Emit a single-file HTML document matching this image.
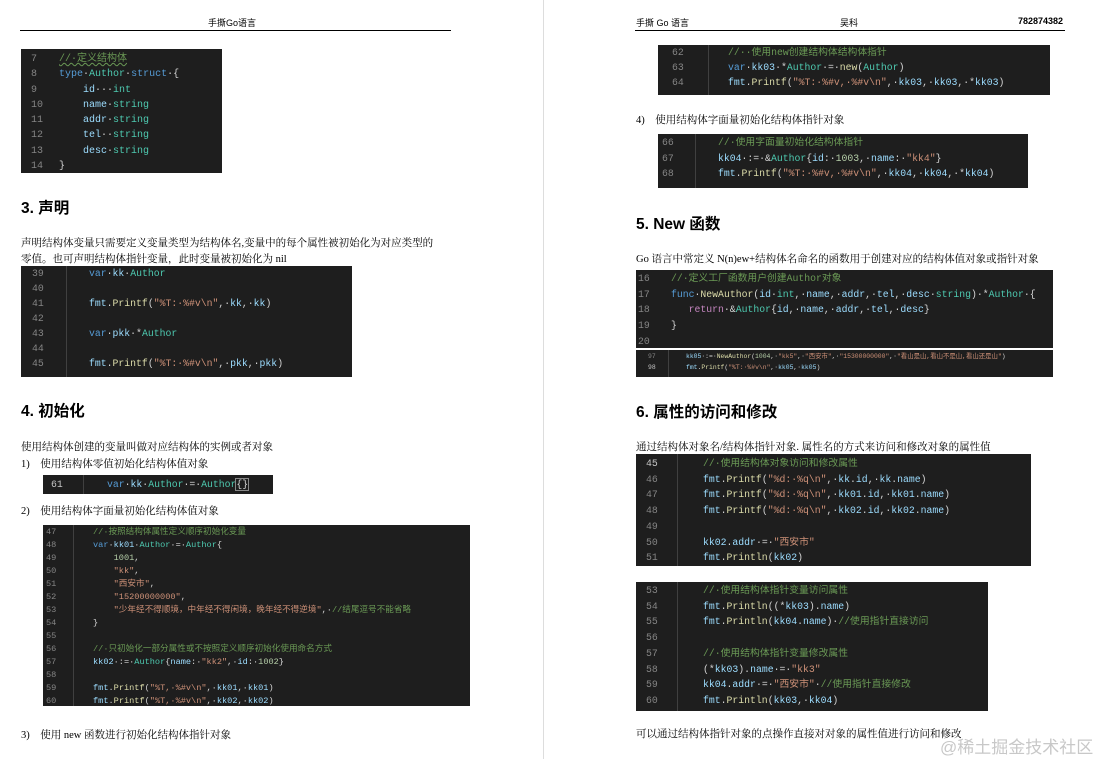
<!DOCTYPE html>
<html><head><meta charset="utf-8">
<style>
body{margin:0;width:1106px;height:759px;background:#fff;position:relative;overflow:hidden;font-family:"Liberation Serif","Noto Serif CJK SC",serif;color:#000}
.a{position:absolute;white-space:nowrap}
.hd{font-family:"Liberation Sans","Noto Sans CJK SC",sans-serif;font-size:9px}
.h2{font-family:"Liberation Sans","Noto Sans CJK SC",sans-serif;font-weight:bold;font-size:15.5px}
.p{font-size:10.5px;font-family:"Liberation Serif","Noto Serif CJK SC",serif}
.cb{position:absolute;background:#1e1e1e;overflow:hidden;font-family:"Liberation Mono","Noto Sans CJK SC",monospace;color:#d4d4d4}
.cb .l{position:absolute;white-space:pre;left:0}
.cb .n{position:absolute;color:#858585;white-space:pre}
.k{color:#569cd6}.t{color:#4ec9b0}.c{color:#6a9955}.s{color:#ce9178}.v{color:#9cdcfe}.f{color:#dcdcaa}.r{color:#c586c0}.m{color:#b5cea8}
.sep{position:absolute;top:0;bottom:0;width:1px;background:#404040}
</style></head><body>
<!-- left page -->
<div class="a hd" style="left:208px;top:16px">手撕Go语言</div>
<div class="a" style="left:20px;top:30px;width:431px;height:1px;background:#000"></div>
<div class="a" style="left:543px;top:0;width:1px;height:759px;background:#ddd"></div>

<div class="cb" style="left:21px;top:49px;width:201px;height:124px;font-size:10px">
<div class="n" style="left:10px;top:3px;line-height:15.3px">7<br>8<br>9<br>10<br>11<br>12<br>13<br>14</div>
<div class="l" style="left:38px;top:3px;line-height:15.3px"><span class="c" style="text-decoration:underline wavy #6a9955">//·定义结构体</span>
<span class="k">type</span>·<span class="t">Author</span>·<span class="k">struct</span>·{
    <span class="v">id</span>···<span class="t">int</span>
    <span class="v">name</span>·<span class="t">string</span>
    <span class="v">addr</span>·<span class="t">string</span>
    <span class="v">tel</span>··<span class="t">string</span>
    <span class="v">desc</span>·<span class="t">string</span>
}</div></div>

<div class="a h2" style="left:21px;top:196px">3. 声明</div>
<div class="a p" style="left:21px;top:235px">声明结构体变量只需要定义变量类型为结构体名,变量中的每个属性被初始化为对应类型的</div>
<div class="a p" style="left:21px;top:251px">零值。也可声明结构体指针变量，此时变量被初始化为 nil</div>

<div class="cb" style="left:21px;top:266px;width:331px;height:111px;font-size:9.8px">
<div class="sep" style="left:45px"></div>
<div class="n" style="left:11px;top:0;line-height:15px">39<br>40<br>41<br>42<br>43<br>44<br>45</div>
<div class="l" style="left:68px;top:0;line-height:15px"><span class="k">var</span>·<span class="v">kk</span>·<span class="t">Author</span>

<span class="v">fmt</span>.<span class="f">Printf</span>(<span class="s">"%T:·%#v\n"</span>,·<span class="v">kk</span>,·<span class="v">kk</span>)

<span class="k">var</span>·<span class="v">pkk</span>·*<span class="t">Author</span>

<span class="v">fmt</span>.<span class="f">Printf</span>(<span class="s">"%T:·%#v\n"</span>,·<span class="v">pkk</span>,·<span class="v">pkk</span>)</div></div>

<div class="a h2" style="left:21px;top:399px">4. 初始化</div>
<div class="a p" style="left:21px;top:439px">使用结构体创建的变量叫做对应结构体的实例或者对象</div>
<div class="a p" style="left:21px;top:456px">1)&nbsp;&nbsp;&nbsp;&nbsp;使用结构体零值初始化结构体值对象</div>

<div class="cb" style="left:43px;top:475px;width:230px;height:19px;font-size:9.8px">
<div class="sep" style="left:40px"></div>
<div class="n" style="left:8px;top:2px;line-height:15px;color:#c6c6c6">61</div>
<div class="l" style="left:64px;top:2px;line-height:15px"><span class="k">var</span>·<span class="v">kk</span>·<span class="t">Author</span>·=·<span class="t">Author</span><span style="outline:1px solid #888">{}</span></div></div>

<div class="a p" style="left:21px;top:503px">2)&nbsp;&nbsp;&nbsp;&nbsp;使用结构体字面量初始化结构体值对象</div>

<div class="cb" style="left:43px;top:525px;width:427px;height:181px;font-size:8.6px">
<div class="sep" style="left:30px"></div>
<div class="n" style="left:3px;top:1px;line-height:13px">47<br>48<br>49<br>50<br>51<br>52<br>53<br>54<br>55<br>56<br>57<br>58<br>59<br>60</div>
<div class="l" style="left:50px;top:1px;line-height:13px"><span class="c">//·按照结构体属性定义顺序初始化变量</span>
<span class="k">var</span>·<span class="v">kk01</span>·<span class="t">Author</span>·=·<span class="t">Author</span>{
    <span class="m">1001</span>,
    <span class="s">"kk"</span>,
    <span class="s">"西安市"</span>,
    <span class="s">"15200000000"</span>,
    <span class="s">"少年经不得顺境，中年经不得闲境，晚年经不得逆境"</span>,·<span class="c">//结尾逗号不能省略</span>
}

<span class="c">//·只初始化一部分属性或不按照定义顺序初始化使用命名方式</span>
<span class="v">kk02</span>·:=·<span class="t">Author</span>{<span class="v">name</span>:·<span class="s">"kk2"</span>,·<span class="v">id</span>:·<span class="m">1002</span>}

<span class="v">fmt</span>.<span class="f">Printf</span>(<span class="s">"%T,·%#v\n"</span>,·<span class="v">kk01</span>,·<span class="v">kk01</span>)
<span class="v">fmt</span>.<span class="f">Printf</span>(<span class="s">"%T,·%#v\n"</span>,·<span class="v">kk02</span>,·<span class="v">kk02</span>)</div></div>

<div class="a p" style="left:21px;top:727px">3)&nbsp;&nbsp;&nbsp;&nbsp;使用 new 函数进行初始化结构体指针对象</div>

<!-- right page -->
<div class="a hd" style="left:636px;top:16px">手撕 Go 语言</div>
<div class="a hd" style="left:840px;top:16px">吴科</div>
<div class="a hd" style="left:1018px;top:16px;font-weight:bold">782874382</div>
<div class="a" style="left:635px;top:30px;width:430px;height:1px;background:#000"></div>

<div class="cb" style="left:658px;top:45px;width:392px;height:50px;font-size:9.8px">
<div class="sep" style="left:50px"></div>
<div class="n" style="left:14px;top:0;line-height:15px">62<br>63<br>64</div>
<div class="l" style="left:70px;top:0;line-height:15px"><span class="c">//··使用new创建结构体结构体指针</span>
<span class="k">var</span>·<span class="v">kk03</span>·*<span class="t">Author</span>·=·<span class="f">new</span>(<span class="t">Author</span>)
<span class="v">fmt</span>.<span class="f">Printf</span>(<span class="s">"%T:·%#v,·%#v\n"</span>,·<span class="v">kk03</span>,·<span class="v">kk03</span>,·*<span class="v">kk03</span>)</div></div>

<div class="a p" style="left:636px;top:112px">4)&nbsp;&nbsp;&nbsp;&nbsp;使用结构体字面量初始化结构体指针对象</div>

<div class="cb" style="left:658px;top:134px;width:370px;height:54px;font-size:9.8px">
<div class="sep" style="left:37px"></div>
<div class="n" style="left:4px;top:1px;line-height:15.5px">66<br>67<br>68</div>
<div class="l" style="left:60px;top:1px;line-height:15.5px"><span class="c">//·使用字面量初始化结构体指针</span>
<span class="v">kk04</span>·:=·&amp;<span class="t">Author</span>{<span class="v">id</span>:·<span class="m">1003</span>,·<span class="v">name</span>:·<span class="s">"kk4"</span>}
<span class="v">fmt</span>.<span class="f">Printf</span>(<span class="s">"%T:·%#v,·%#v\n"</span>,·<span class="v">kk04</span>,·<span class="v">kk04</span>,·*<span class="v">kk04</span>)</div></div>

<div class="a h2" style="left:636px;top:212px">5. New 函数</div>
<div class="a p" style="left:636px;top:251px">Go 语言中常定义 N(n)ew+结构体名命名的函数用于创建对应的结构体值对象或指针对象</div>

<div class="cb" style="left:636px;top:270px;width:417px;height:78px;font-size:9.8px">
<div class="n" style="left:2px;top:1px;line-height:15.7px">16<br>17<br>18<br>19<br>20</div>
<div class="l" style="left:35px;top:1px;line-height:15.7px"><span class="c">//·定义工厂函数用户创建Author对象</span>
<span class="k">func</span>·<span class="f">NewAuthor</span>(<span class="v">id</span>·<span class="t">int</span>,·<span class="v">name</span>,·<span class="v">addr</span>,·<span class="v">tel</span>,·<span class="v">desc</span>·<span class="t">string</span>)·*<span class="t">Author</span>·{
   <span class="r">return</span>·&amp;<span class="t">Author</span>{<span class="v">id</span>,·<span class="v">name</span>,·<span class="v">addr</span>,·<span class="v">tel</span>,·<span class="v">desc</span>}
}</div></div>

<div class="cb" style="left:636px;top:350px;width:417px;height:27px;font-size:6.4px">
<div class="sep" style="left:32px"></div>
<div class="n" style="left:12px;top:1px;line-height:11px">97<br><span style="color:#c6c6c6">98</span></div>
<div class="l" style="left:50px;top:1px;line-height:11px"><span class="v">kk05</span>·:=·<span class="f">NewAuthor</span>(<span class="m">1004</span>,·<span class="s">"kk5"</span>,·<span class="s">"西安市"</span>,·<span class="s">"15300000000"</span>,·<span class="s">"看山是山,看山不是山,看山还是山"</span>)
<span class="v">fmt</span>.<span class="f">Printf</span>(<span class="s">"%T:·%#v\n"</span>,·<span class="v">kk05</span>,·<span class="v">kk05</span>)</div></div>

<div class="a h2" style="left:636px;top:400px">6. 属性的访问和修改</div>
<div class="a p" style="left:636px;top:439px">通过结构体对象名/结构体指针对象. 属性名的方式来访问和修改对象的属性值</div>

<div class="cb" style="left:636px;top:454px;width:395px;height:112px;font-size:9.8px">
<div class="sep" style="left:41px"></div>
<div class="n" style="left:10px;top:2px;line-height:15.7px"><span style="color:#c6c6c6">45</span><br>46<br>47<br>48<br>49<br>50<br>51</div>
<div class="l" style="left:67px;top:2px;line-height:15.7px"><span class="c">//·使用结构体对象访问和修改属性</span>
<span class="v">fmt</span>.<span class="f">Printf</span>(<span class="s">"%d:·%q\n"</span>,·<span class="v">kk</span>.<span class="v">id</span>,·<span class="v">kk</span>.<span class="v">name</span>)
<span class="v">fmt</span>.<span class="f">Printf</span>(<span class="s">"%d:·%q\n"</span>,·<span class="v">kk01</span>.<span class="v">id</span>,·<span class="v">kk01</span>.<span class="v">name</span>)
<span class="v">fmt</span>.<span class="f">Printf</span>(<span class="s">"%d:·%q\n"</span>,·<span class="v">kk02</span>.<span class="v">id</span>,·<span class="v">kk02</span>.<span class="v">name</span>)

<span class="v">kk02</span>.<span class="v">addr</span>·=·<span class="s">"西安市"</span>
<span class="v">fmt</span>.<span class="f">Println</span>(<span class="v">kk02</span>)</div></div>

<div class="cb" style="left:636px;top:582px;width:352px;height:129px;font-size:9.8px">
<div class="sep" style="left:41px"></div>
<div class="n" style="left:10px;top:1px;line-height:15.7px">53<br>54<br>55<br>56<br>57<br>58<br>59<br>60<br>61</div>
<div class="l" style="left:67px;top:1px;line-height:15.7px"><span class="c">//·使用结构体指针变量访问属性</span>
<span class="v">fmt</span>.<span class="f">Println</span>((*<span class="v">kk03</span>).<span class="v">name</span>)
<span class="v">fmt</span>.<span class="f">Println</span>(<span class="v">kk04</span>.<span class="v">name</span>)·<span class="c">//使用指针直接访问</span>

<span class="c">//·使用结构体指针变量修改属性</span>
(*<span class="v">kk03</span>).<span class="v">name</span>·=·<span class="s">"kk3"</span>
<span class="v">kk04</span>.<span class="v">addr</span>·=·<span class="s">"西安市"</span>·<span class="c">//使用指针直接修改</span>
<span class="v">fmt</span>.<span class="f">Println</span>(<span class="v">kk03</span>,·<span class="v">kk04</span>)</div></div>

<div class="a p" style="left:636px;top:726px">可以通过结构体指针对象的点操作直接对对象的属性值进行访问和修改</div>
<div class="a" style="left:940px;top:733px;font-size:17px;color:#c8c8c8;font-family:'Liberation Sans','Noto Sans CJK SC',sans-serif">@稀土掘金技术社区</div>
</body></html>
